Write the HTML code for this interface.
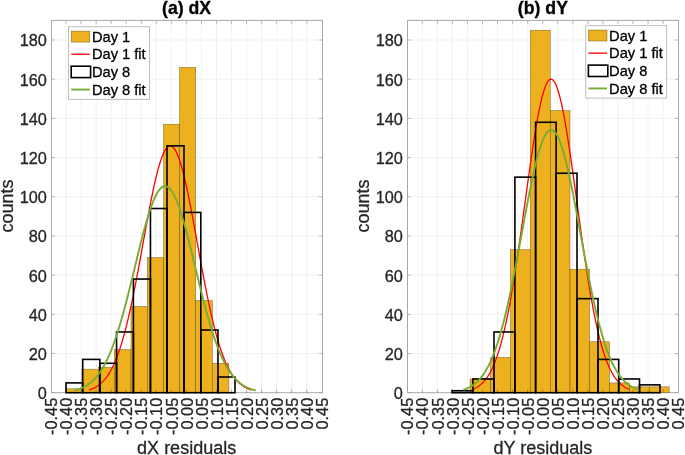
<!DOCTYPE html><html><head><meta charset="utf-8"><style>html,body{margin:0;padding:0;background:#fff;}svg{display:block;will-change:transform;}text{font-family:"Liberation Sans",sans-serif;stroke-width:0.3px;stroke-linejoin:round;}.k{fill:#262626;stroke:#262626;}.b{fill:#000;stroke:#000;}</style></head><body>
<svg width="685" height="455" viewBox="0 0 685 455">
<rect x="0" y="0" width="685" height="455" fill="#fff"/>
<path d="M66 20.4V392.7M81.05 20.4V392.7M96.1 20.4V392.7M111.15 20.4V392.7M126.2 20.4V392.7M141.25 20.4V392.7M156.3 20.4V392.7M171.35 20.4V392.7M186.4 20.4V392.7M201.45 20.4V392.7M216.5 20.4V392.7M231.55 20.4V392.7M246.6 20.4V392.7M261.65 20.4V392.7M276.7 20.4V392.7M291.75 20.4V392.7M306.8 20.4V392.7M51.5 353.51H322.5M51.5 314.32H322.5M51.5 275.13H322.5M51.5 235.94H322.5M51.5 196.75H322.5M51.5 157.56H322.5M51.5 118.37H322.5M51.5 79.18H322.5M51.5 39.99H322.5" stroke="#eeeeee" stroke-width="0.8" fill="none"/>
<path d="M66 20.4v3.4M81.05 20.4v3.4M96.1 20.4v3.4M111.15 20.4v3.4M126.2 20.4v3.4M141.25 20.4v3.4M156.3 20.4v3.4M171.35 20.4v3.4M186.4 20.4v3.4M201.45 20.4v3.4M216.5 20.4v3.4M231.55 20.4v3.4M246.6 20.4v3.4M261.65 20.4v3.4M276.7 20.4v3.4M291.75 20.4v3.4M306.8 20.4v3.4M51.5 392.7h3.4M322.5 392.7h-3.4M51.5 353.51h3.4M322.5 353.51h-3.4M51.5 314.32h3.4M322.5 314.32h-3.4M51.5 275.13h3.4M322.5 275.13h-3.4M51.5 235.94h3.4M322.5 235.94h-3.4M51.5 196.75h3.4M322.5 196.75h-3.4M51.5 157.56h3.4M322.5 157.56h-3.4M51.5 118.37h3.4M322.5 118.37h-3.4M51.5 79.18h3.4M322.5 79.18h-3.4M51.5 39.99h3.4M322.5 39.99h-3.4" stroke="#a8a8a8" stroke-width="0.8" fill="none"/>
<rect x="51.5" y="20.4" width="271" height="372.3" fill="none" stroke="#a8a8a8" stroke-width="1"/>
<rect x="65.6" y="388.78" width="16.3" height="3.92" fill="#EDB120" stroke="rgba(50,40,10,0.55)" stroke-width="0.6"/>
<rect x="81.9" y="369.19" width="16.4" height="23.51" fill="#EDB120" stroke="rgba(50,40,10,0.55)" stroke-width="0.6"/>
<rect x="98.3" y="367.23" width="16.1" height="25.47" fill="#EDB120" stroke="rgba(50,40,10,0.55)" stroke-width="0.6"/>
<rect x="114.4" y="349.59" width="16.6" height="43.11" fill="#EDB120" stroke="rgba(50,40,10,0.55)" stroke-width="0.6"/>
<rect x="131" y="306.48" width="16.3" height="86.22" fill="#EDB120" stroke="rgba(50,40,10,0.55)" stroke-width="0.6"/>
<rect x="147.3" y="257.5" width="16.3" height="135.2" fill="#EDB120" stroke="rgba(50,40,10,0.55)" stroke-width="0.6"/>
<rect x="163.6" y="124.25" width="16" height="268.45" fill="#EDB120" stroke="rgba(50,40,10,0.55)" stroke-width="0.6"/>
<rect x="179.6" y="67.43" width="16.1" height="325.27" fill="#EDB120" stroke="rgba(50,40,10,0.55)" stroke-width="0.6"/>
<rect x="195.7" y="300.6" width="16.7" height="92.1" fill="#EDB120" stroke="rgba(50,40,10,0.55)" stroke-width="0.6"/>
<rect x="212.4" y="363.31" width="16.5" height="29.39" fill="#EDB120" stroke="rgba(50,40,10,0.55)" stroke-width="0.6"/>
<path d="M66 392.7v-3.4M81.05 392.7v-3.4M96.1 392.7v-3.4M111.15 392.7v-3.4M126.2 392.7v-3.4M141.25 392.7v-3.4M156.3 392.7v-3.4M171.35 392.7v-3.4M186.4 392.7v-3.4M201.45 392.7v-3.4M216.5 392.7v-3.4M231.55 392.7v-3.4M246.6 392.7v-3.4M261.65 392.7v-3.4M276.7 392.7v-3.4M291.75 392.7v-3.4M306.8 392.7v-3.4" stroke="rgba(60,50,20,0.45)" stroke-width="0.8" fill="none"/>
<polyline points="88.97,389.96 90.33,389.52 91.68,389.02 93.03,388.45 94.39,387.8 95.74,387.07 97.1,386.25 98.45,385.33 99.8,384.29 101.16,383.14 102.51,381.85 103.87,380.42 105.22,378.84 106.57,377.09 107.93,375.17 109.28,373.06 110.63,370.75 111.99,368.22 113.34,365.48 114.7,362.5 116.05,359.29 117.4,355.82 118.76,352.09 120.11,348.1 121.47,343.84 122.82,339.31 124.17,334.5 125.53,329.41 126.88,324.05 128.24,318.43 129.59,312.55 130.94,306.41 132.3,300.04 133.65,293.44 135,286.65 136.36,279.66 137.71,272.52 139.07,265.25 140.42,257.88 141.77,250.43 143.13,242.95 144.48,235.47 145.84,228.03 147.19,220.66 148.54,213.42 149.9,206.33 151.25,199.46 152.61,192.82 153.96,186.48 155.31,180.46 156.67,174.82 158.02,169.58 159.38,164.79 160.73,160.47 162.08,156.67 163.44,153.4 164.79,150.7 166.14,148.57 167.5,147.04 168.85,146.11 170.21,145.81 171.56,146.11 172.91,147.04 174.27,148.57 175.62,150.7 176.98,153.4 178.33,156.67 179.68,160.47 181.04,164.79 182.39,169.58 183.75,174.82 185.1,180.46 186.45,186.48 187.81,192.82 189.16,199.46 190.51,206.33 191.87,213.42 193.22,220.66 194.58,228.03 195.93,235.47 197.28,242.95 198.64,250.43 199.99,257.88 201.35,265.25 202.7,272.52 204.05,279.66 205.41,286.65 206.76,293.44 208.12,300.04 209.47,306.41 210.82,312.55 212.18,318.43 213.53,324.05 214.88,329.41 216.24,334.5 217.59,339.31 218.95,343.84 220.3,348.1 221.65,352.09 223.01,355.82 224.36,359.29 225.72,362.5 227.07,365.48 228.42,368.22 229.78,370.75 231.13,373.06 232.49,375.17 233.84,377.09 235.19,378.84 236.55,380.42 237.9,381.85 239.25,383.14 240.61,384.29 241.96,385.33 243.32,386.25 244.67,387.07 246.02,387.8 247.38,388.45 248.73,389.02 250.09,389.52 251.44,389.96" fill="none" stroke="#FF0000" stroke-width="1.3" stroke-linejoin="round" stroke-linecap="butt"/>
<rect x="66" y="382.9" width="16.7" height="9.8" fill="none" stroke="#000" stroke-width="1.6"/>
<rect x="82.7" y="359.39" width="17.15" height="33.31" fill="none" stroke="#000" stroke-width="1.6"/>
<rect x="99.85" y="363.31" width="16.7" height="29.39" fill="none" stroke="#000" stroke-width="1.6"/>
<rect x="116.55" y="331.96" width="16.85" height="60.74" fill="none" stroke="#000" stroke-width="1.6"/>
<rect x="133.4" y="279.05" width="17.05" height="113.65" fill="none" stroke="#000" stroke-width="1.6"/>
<rect x="150.45" y="208.51" width="16.55" height="184.19" fill="none" stroke="#000" stroke-width="1.6"/>
<rect x="167" y="145.81" width="17" height="246.89" fill="none" stroke="#000" stroke-width="1.6"/>
<rect x="184" y="212.43" width="16.8" height="180.27" fill="none" stroke="#000" stroke-width="1.6"/>
<rect x="200.8" y="330" width="17.2" height="62.7" fill="none" stroke="#000" stroke-width="1.6"/>
<rect x="218" y="377.02" width="17" height="15.68" fill="none" stroke="#000" stroke-width="1.6"/>
<polyline points="74.27,390.41 75.78,390.04 77.29,389.62 78.8,389.14 80.32,388.6 81.83,387.99 83.34,387.31 84.86,386.53 86.37,385.67 87.88,384.7 89.4,383.63 90.91,382.43 92.42,381.11 93.93,379.64 95.45,378.04 96.96,376.27 98.47,374.34 99.99,372.23 101.5,369.93 103.01,367.44 104.52,364.75 106.04,361.85 107.55,358.73 109.06,355.39 110.58,351.83 112.09,348.04 113.6,344.01 115.12,339.76 116.63,335.28 118.14,330.57 119.65,325.65 121.17,320.52 122.68,315.19 124.19,309.67 125.71,303.98 127.22,298.14 128.73,292.17 130.25,286.09 131.76,279.92 133.27,273.69 134.78,267.43 136.3,261.18 137.81,254.95 139.32,248.79 140.84,242.73 142.35,236.8 143.86,231.05 145.38,225.5 146.89,220.19 148.4,215.16 149.91,210.44 151.43,206.06 152.94,202.05 154.45,198.44 155.97,195.26 157.48,192.53 158.99,190.26 160.51,188.48 162.02,187.2 163.53,186.43 165.04,186.17 166.56,186.43 168.07,187.2 169.58,188.48 171.1,190.26 172.61,192.53 174.12,195.26 175.63,198.44 177.15,202.05 178.66,206.06 180.17,210.44 181.69,215.16 183.2,220.19 184.71,225.5 186.23,231.05 187.74,236.8 189.25,242.73 190.76,248.79 192.28,254.95 193.79,261.18 195.3,267.43 196.82,273.69 198.33,279.92 199.84,286.09 201.36,292.17 202.87,298.14 204.38,303.98 205.89,309.67 207.41,315.19 208.92,320.52 210.43,325.65 211.95,330.57 213.46,335.28 214.97,339.76 216.49,344.01 218,348.04 219.51,351.83 221.02,355.39 222.54,358.73 224.05,361.85 225.56,364.75 227.08,367.44 228.59,369.93 230.1,372.23 231.62,374.34 233.13,376.27 234.64,378.04 236.15,379.64 237.67,381.11 239.18,382.43 240.69,383.63 242.21,384.7 243.72,385.67 245.23,386.53 246.74,387.31 248.26,387.99 249.77,388.6 251.28,389.14 252.8,389.62 254.31,390.04 255.82,390.41" fill="none" stroke="#77AC30" stroke-width="1.9" stroke-linejoin="round" stroke-linecap="butt"/>
<text x="46.9" y="399.2" font-size="16.3" class="k" text-anchor="end">0</text>
<text x="46.9" y="360.01" font-size="16.3" class="k" text-anchor="end">20</text>
<text x="46.9" y="320.82" font-size="16.3" class="k" text-anchor="end">40</text>
<text x="46.9" y="281.63" font-size="16.3" class="k" text-anchor="end">60</text>
<text x="46.9" y="242.44" font-size="16.3" class="k" text-anchor="end">80</text>
<text x="46.9" y="203.25" font-size="16.3" class="k" text-anchor="end">100</text>
<text x="46.9" y="164.06" font-size="16.3" class="k" text-anchor="end">120</text>
<text x="46.9" y="124.87" font-size="16.3" class="k" text-anchor="end">140</text>
<text x="46.9" y="85.68" font-size="16.3" class="k" text-anchor="end">160</text>
<text x="46.9" y="46.49" font-size="16.3" class="k" text-anchor="end">180</text>
<text transform="translate(57.12,397.8) rotate(-90)" font-size="16.3" class="k" text-anchor="end">-0.45</text>
<text transform="translate(72.17,397.8) rotate(-90)" font-size="16.3" class="k" text-anchor="end">-0.40</text>
<text transform="translate(87.22,397.8) rotate(-90)" font-size="16.3" class="k" text-anchor="end">-0.35</text>
<text transform="translate(102.27,397.8) rotate(-90)" font-size="16.3" class="k" text-anchor="end">-0.30</text>
<text transform="translate(117.32,397.8) rotate(-90)" font-size="16.3" class="k" text-anchor="end">-0.25</text>
<text transform="translate(132.37,397.8) rotate(-90)" font-size="16.3" class="k" text-anchor="end">-0.20</text>
<text transform="translate(147.42,397.8) rotate(-90)" font-size="16.3" class="k" text-anchor="end">-0.15</text>
<text transform="translate(162.47,397.8) rotate(-90)" font-size="16.3" class="k" text-anchor="end">-0.10</text>
<text transform="translate(177.52,397.8) rotate(-90)" font-size="16.3" class="k" text-anchor="end">-0.05</text>
<text transform="translate(192.57,397.8) rotate(-90)" font-size="16.3" class="k" text-anchor="end">0.00</text>
<text transform="translate(207.62,397.8) rotate(-90)" font-size="16.3" class="k" text-anchor="end">0.05</text>
<text transform="translate(222.67,397.8) rotate(-90)" font-size="16.3" class="k" text-anchor="end">0.10</text>
<text transform="translate(237.72,397.8) rotate(-90)" font-size="16.3" class="k" text-anchor="end">0.15</text>
<text transform="translate(252.77,397.8) rotate(-90)" font-size="16.3" class="k" text-anchor="end">0.20</text>
<text transform="translate(267.82,397.8) rotate(-90)" font-size="16.3" class="k" text-anchor="end">0.25</text>
<text transform="translate(282.87,397.8) rotate(-90)" font-size="16.3" class="k" text-anchor="end">0.30</text>
<text transform="translate(297.92,397.8) rotate(-90)" font-size="16.3" class="k" text-anchor="end">0.35</text>
<text transform="translate(312.97,397.8) rotate(-90)" font-size="16.3" class="k" text-anchor="end">0.40</text>
<text transform="translate(328.02,397.8) rotate(-90)" font-size="16.3" class="k" text-anchor="end">0.45</text>
<text x="186.65" y="454.3" font-size="18.0" class="k" text-anchor="middle">dX residuals</text>
<text transform="translate(13.1,206.1) rotate(-90)" font-size="18.0" class="k" text-anchor="middle">counts</text>
<text x="186.6" y="13.8" font-size="17.7" font-weight="bold" class="b" text-anchor="middle">(a) dX</text>
<rect x="68.5" y="26.7" width="81" height="72.7" fill="#fff" stroke="#bdbdbd" stroke-width="1"/>
<rect x="71.2" y="31.1" width="18.6" height="11" fill="#EDB120" stroke="rgba(50,40,10,0.55)" stroke-width="0.6"/>
<line x1="71.2" y1="54.25" x2="89.8" y2="54.25" stroke="#FF0000" stroke-width="1.3"/>
<rect x="71.2" y="66.2" width="19.4" height="11.4" fill="none" stroke="#000" stroke-width="1.6"/>
<line x1="71.2" y1="89.55" x2="89.8" y2="89.55" stroke="#77AC30" stroke-width="1.9"/>
<text x="91.9" y="41.8" font-size="14.67" class="b">Day 1</text>
<text x="91.9" y="59.45" font-size="14.67" class="b">Day 1 fit</text>
<text x="91.9" y="77.1" font-size="14.67" class="b">Day 8</text>
<text x="91.9" y="94.75" font-size="14.67" class="b">Day 8 fit</text>
<path d="M422.3 20.4V392.7M437.35 20.4V392.7M452.4 20.4V392.7M467.45 20.4V392.7M482.5 20.4V392.7M497.55 20.4V392.7M512.6 20.4V392.7M527.65 20.4V392.7M542.7 20.4V392.7M557.75 20.4V392.7M572.8 20.4V392.7M587.85 20.4V392.7M602.9 20.4V392.7M617.95 20.4V392.7M633 20.4V392.7M648.05 20.4V392.7M663.1 20.4V392.7M407.5 353.51H678.5M407.5 314.32H678.5M407.5 275.13H678.5M407.5 235.94H678.5M407.5 196.75H678.5M407.5 157.56H678.5M407.5 118.37H678.5M407.5 79.18H678.5M407.5 39.99H678.5" stroke="#eeeeee" stroke-width="0.8" fill="none"/>
<path d="M422.3 20.4v3.4M437.35 20.4v3.4M452.4 20.4v3.4M467.45 20.4v3.4M482.5 20.4v3.4M497.55 20.4v3.4M512.6 20.4v3.4M527.65 20.4v3.4M542.7 20.4v3.4M557.75 20.4v3.4M572.8 20.4v3.4M587.85 20.4v3.4M602.9 20.4v3.4M617.95 20.4v3.4M633 20.4v3.4M648.05 20.4v3.4M663.1 20.4v3.4M407.5 392.7h3.4M678.5 392.7h-3.4M407.5 353.51h3.4M678.5 353.51h-3.4M407.5 314.32h3.4M678.5 314.32h-3.4M407.5 275.13h3.4M678.5 275.13h-3.4M407.5 235.94h3.4M678.5 235.94h-3.4M407.5 196.75h3.4M678.5 196.75h-3.4M407.5 157.56h3.4M678.5 157.56h-3.4M407.5 118.37h3.4M678.5 118.37h-3.4M407.5 79.18h3.4M678.5 79.18h-3.4M407.5 39.99h3.4M678.5 39.99h-3.4" stroke="#a8a8a8" stroke-width="0.8" fill="none"/>
<rect x="407.5" y="20.4" width="271" height="372.3" fill="none" stroke="#a8a8a8" stroke-width="1"/>
<rect x="470.1" y="378.98" width="20.6" height="13.72" fill="#EDB120" stroke="rgba(50,40,10,0.55)" stroke-width="0.6"/>
<rect x="490.7" y="357.43" width="19.8" height="35.27" fill="#EDB120" stroke="rgba(50,40,10,0.55)" stroke-width="0.6"/>
<rect x="510.5" y="249.66" width="19.8" height="143.04" fill="#EDB120" stroke="rgba(50,40,10,0.55)" stroke-width="0.6"/>
<rect x="530.3" y="30.2" width="20" height="362.5" fill="#EDB120" stroke="rgba(50,40,10,0.55)" stroke-width="0.6"/>
<rect x="550.3" y="110.54" width="19.7" height="282.16" fill="#EDB120" stroke="rgba(50,40,10,0.55)" stroke-width="0.6"/>
<rect x="570" y="269.25" width="19.6" height="123.45" fill="#EDB120" stroke="rgba(50,40,10,0.55)" stroke-width="0.6"/>
<rect x="589.6" y="341.75" width="19.9" height="50.95" fill="#EDB120" stroke="rgba(50,40,10,0.55)" stroke-width="0.6"/>
<rect x="609.5" y="382.9" width="20" height="9.8" fill="#EDB120" stroke="rgba(50,40,10,0.55)" stroke-width="0.6"/>
<rect x="629.5" y="386.82" width="20" height="5.88" fill="#EDB120" stroke="rgba(50,40,10,0.55)" stroke-width="0.6"/>
<rect x="649.5" y="386.82" width="19.7" height="5.88" fill="#EDB120" stroke="rgba(50,40,10,0.55)" stroke-width="0.6"/>
<path d="M422.3 392.7v-3.4M437.35 392.7v-3.4M452.4 392.7v-3.4M467.45 392.7v-3.4M482.5 392.7v-3.4M497.55 392.7v-3.4M512.6 392.7v-3.4M527.65 392.7v-3.4M542.7 392.7v-3.4M557.75 392.7v-3.4M572.8 392.7v-3.4M587.85 392.7v-3.4M602.9 392.7v-3.4M617.95 392.7v-3.4M633 392.7v-3.4M648.05 392.7v-3.4M663.1 392.7v-3.4" stroke="rgba(60,50,20,0.45)" stroke-width="0.8" fill="none"/>
<polyline points="473.08,389.22 474.38,388.66 475.68,388.02 476.98,387.3 478.27,386.48 479.57,385.55 480.87,384.51 482.17,383.34 483.47,382.03 484.77,380.56 486.07,378.93 487.37,377.11 488.66,375.1 489.96,372.88 491.26,370.44 492.56,367.76 493.86,364.82 495.16,361.62 496.46,358.13 497.76,354.36 499.06,350.27 500.35,345.87 501.65,341.13 502.95,336.07 504.25,330.66 505.55,324.9 506.85,318.79 508.15,312.33 509.45,305.53 510.74,298.39 512.04,290.92 513.34,283.13 514.64,275.03 515.94,266.66 517.24,258.03 518.54,249.16 519.84,240.1 521.13,230.86 522.43,221.5 523.73,212.04 525.03,202.54 526.33,193.04 527.63,183.59 528.93,174.24 530.23,165.04 531.53,156.05 532.82,147.31 534.12,138.89 535.42,130.83 536.72,123.19 538.02,116.02 539.32,109.37 540.62,103.29 541.92,97.81 543.21,92.98 544.51,88.83 545.81,85.39 547.11,82.69 548.41,80.75 549.71,79.58 551.01,79.18 552.31,79.58 553.61,80.75 554.9,82.69 556.2,85.39 557.5,88.83 558.8,92.98 560.1,97.81 561.4,103.29 562.7,109.37 564,116.02 565.29,123.19 566.59,130.83 567.89,138.89 569.19,147.31 570.49,156.05 571.79,165.04 573.09,174.24 574.39,183.59 575.69,193.04 576.98,202.54 578.28,212.04 579.58,221.5 580.88,230.86 582.18,240.1 583.48,249.16 584.78,258.03 586.08,266.66 587.37,275.03 588.67,283.13 589.97,290.92 591.27,298.39 592.57,305.53 593.87,312.33 595.17,318.79 596.47,324.9 597.76,330.66 599.06,336.07 600.36,341.13 601.66,345.87 602.96,350.27 604.26,354.36 605.56,358.13 606.86,361.62 608.16,364.82 609.45,367.76 610.75,370.44 612.05,372.88 613.35,375.1 614.65,377.11 615.95,378.93 617.25,380.56 618.55,382.03 619.84,383.34 621.14,384.51 622.44,385.55 623.74,386.48 625.04,387.3 626.34,388.02 627.64,388.66 628.94,389.22" fill="none" stroke="#FF0000" stroke-width="1.3" stroke-linejoin="round" stroke-linecap="butt"/>
<rect x="452" y="390.74" width="20.9" height="1.96" fill="none" stroke="#000" stroke-width="1.6"/>
<rect x="472.9" y="378.98" width="21.1" height="13.72" fill="none" stroke="#000" stroke-width="1.6"/>
<rect x="494" y="331.96" width="20.9" height="60.74" fill="none" stroke="#000" stroke-width="1.6"/>
<rect x="514.9" y="177.16" width="20.7" height="215.54" fill="none" stroke="#000" stroke-width="1.6"/>
<rect x="535.6" y="122.29" width="20.5" height="270.41" fill="none" stroke="#000" stroke-width="1.6"/>
<rect x="556.1" y="173.24" width="20.9" height="219.46" fill="none" stroke="#000" stroke-width="1.6"/>
<rect x="577" y="298.65" width="21" height="94.05" fill="none" stroke="#000" stroke-width="1.6"/>
<rect x="598" y="359.39" width="20.7" height="33.31" fill="none" stroke="#000" stroke-width="1.6"/>
<rect x="618.7" y="378.98" width="20.8" height="13.72" fill="none" stroke="#000" stroke-width="1.6"/>
<rect x="639.5" y="384.86" width="20.5" height="7.84" fill="none" stroke="#000" stroke-width="1.6"/>
<polyline points="463.15,389.78 464.61,389.31 466.08,388.78 467.54,388.17 469.01,387.49 470.48,386.71 471.94,385.84 473.41,384.85 474.87,383.75 476.34,382.52 477.8,381.15 479.27,379.63 480.74,377.95 482.2,376.09 483.67,374.04 485.13,371.79 486.6,369.33 488.07,366.65 489.53,363.73 491,360.56 492.46,357.14 493.93,353.45 495.39,349.48 496.86,345.23 498.33,340.7 499.79,335.87 501.26,330.75 502.72,325.34 504.19,319.64 505.66,313.66 507.12,307.39 508.59,300.86 510.05,294.08 511.52,287.06 512.99,279.83 514.45,272.4 515.92,264.8 517.38,257.06 518.85,249.21 520.31,241.29 521.78,233.32 523.25,225.36 524.71,217.44 526.18,209.6 527.64,201.89 529.11,194.35 530.58,187.03 532.04,179.97 533.51,173.22 534.97,166.82 536.44,160.81 537.91,155.24 539.37,150.14 540.84,145.55 542.3,141.5 543.77,138.02 545.23,135.14 546.7,132.87 548.17,131.25 549.63,130.26 551.1,129.93 552.56,130.26 554.03,131.25 555.5,132.87 556.96,135.14 558.43,138.02 559.89,141.5 561.36,145.55 562.82,150.14 564.29,155.24 565.76,160.81 567.22,166.82 568.69,173.22 570.15,179.97 571.62,187.03 573.09,194.35 574.55,201.89 576.02,209.6 577.48,217.44 578.95,225.36 580.42,233.32 581.88,241.29 583.35,249.21 584.81,257.06 586.28,264.8 587.74,272.4 589.21,279.83 590.68,287.06 592.14,294.08 593.61,300.86 595.07,307.39 596.54,313.66 598.01,319.64 599.47,325.34 600.94,330.75 602.4,335.87 603.87,340.7 605.34,345.23 606.8,349.48 608.27,353.45 609.73,357.14 611.2,360.56 612.66,363.73 614.13,366.65 615.6,369.33 617.06,371.79 618.53,374.04 619.99,376.09 621.46,377.95 622.93,379.63 624.39,381.15 625.86,382.52 627.32,383.75 628.79,384.85 630.25,385.84 631.72,386.71 633.19,387.49 634.65,388.17 636.12,388.78 637.58,389.31 639.05,389.78" fill="none" stroke="#77AC30" stroke-width="1.9" stroke-linejoin="round" stroke-linecap="butt"/>
<text x="402.9" y="399.2" font-size="16.3" class="k" text-anchor="end">0</text>
<text x="402.9" y="360.01" font-size="16.3" class="k" text-anchor="end">20</text>
<text x="402.9" y="320.82" font-size="16.3" class="k" text-anchor="end">40</text>
<text x="402.9" y="281.63" font-size="16.3" class="k" text-anchor="end">60</text>
<text x="402.9" y="242.44" font-size="16.3" class="k" text-anchor="end">80</text>
<text x="402.9" y="203.25" font-size="16.3" class="k" text-anchor="end">100</text>
<text x="402.9" y="164.06" font-size="16.3" class="k" text-anchor="end">120</text>
<text x="402.9" y="124.87" font-size="16.3" class="k" text-anchor="end">140</text>
<text x="402.9" y="85.68" font-size="16.3" class="k" text-anchor="end">160</text>
<text x="402.9" y="46.49" font-size="16.3" class="k" text-anchor="end">180</text>
<text transform="translate(413.42,397.8) rotate(-90)" font-size="16.3" class="k" text-anchor="end">-0.45</text>
<text transform="translate(428.47,397.8) rotate(-90)" font-size="16.3" class="k" text-anchor="end">-0.40</text>
<text transform="translate(443.52,397.8) rotate(-90)" font-size="16.3" class="k" text-anchor="end">-0.35</text>
<text transform="translate(458.57,397.8) rotate(-90)" font-size="16.3" class="k" text-anchor="end">-0.30</text>
<text transform="translate(473.62,397.8) rotate(-90)" font-size="16.3" class="k" text-anchor="end">-0.25</text>
<text transform="translate(488.67,397.8) rotate(-90)" font-size="16.3" class="k" text-anchor="end">-0.20</text>
<text transform="translate(503.72,397.8) rotate(-90)" font-size="16.3" class="k" text-anchor="end">-0.15</text>
<text transform="translate(518.77,397.8) rotate(-90)" font-size="16.3" class="k" text-anchor="end">-0.10</text>
<text transform="translate(533.82,397.8) rotate(-90)" font-size="16.3" class="k" text-anchor="end">-0.05</text>
<text transform="translate(548.87,397.8) rotate(-90)" font-size="16.3" class="k" text-anchor="end">0.00</text>
<text transform="translate(563.92,397.8) rotate(-90)" font-size="16.3" class="k" text-anchor="end">0.05</text>
<text transform="translate(578.97,397.8) rotate(-90)" font-size="16.3" class="k" text-anchor="end">0.10</text>
<text transform="translate(594.02,397.8) rotate(-90)" font-size="16.3" class="k" text-anchor="end">0.15</text>
<text transform="translate(609.07,397.8) rotate(-90)" font-size="16.3" class="k" text-anchor="end">0.20</text>
<text transform="translate(624.12,397.8) rotate(-90)" font-size="16.3" class="k" text-anchor="end">0.25</text>
<text transform="translate(639.17,397.8) rotate(-90)" font-size="16.3" class="k" text-anchor="end">0.30</text>
<text transform="translate(654.22,397.8) rotate(-90)" font-size="16.3" class="k" text-anchor="end">0.35</text>
<text transform="translate(669.27,397.8) rotate(-90)" font-size="16.3" class="k" text-anchor="end">0.40</text>
<text transform="translate(684.32,397.8) rotate(-90)" font-size="16.3" class="k" text-anchor="end">0.45</text>
<text x="542.95" y="454.3" font-size="18.0" class="k" text-anchor="middle">dY residuals</text>
<text transform="translate(369.1,206.1) rotate(-90)" font-size="18.0" class="k" text-anchor="middle">counts</text>
<text x="542.9" y="13.8" font-size="17.7" font-weight="bold" class="b" text-anchor="middle">(b) dY</text>
<rect x="585.7" y="25.6" width="80.9" height="72.5" fill="#fff" stroke="#bdbdbd" stroke-width="1"/>
<rect x="588.4" y="30" width="18.6" height="11" fill="#EDB120" stroke="rgba(50,40,10,0.55)" stroke-width="0.6"/>
<line x1="588.4" y1="53.15" x2="607" y2="53.15" stroke="#FF0000" stroke-width="1.3"/>
<rect x="588.4" y="65.1" width="19.4" height="11.4" fill="none" stroke="#000" stroke-width="1.6"/>
<line x1="588.4" y1="88.45" x2="607" y2="88.45" stroke="#77AC30" stroke-width="1.9"/>
<text x="609.1" y="40.7" font-size="14.67" class="b">Day 1</text>
<text x="609.1" y="58.35" font-size="14.67" class="b">Day 1 fit</text>
<text x="609.1" y="76" font-size="14.67" class="b">Day 8</text>
<text x="609.1" y="93.65" font-size="14.67" class="b">Day 8 fit</text>
</svg></body></html>
